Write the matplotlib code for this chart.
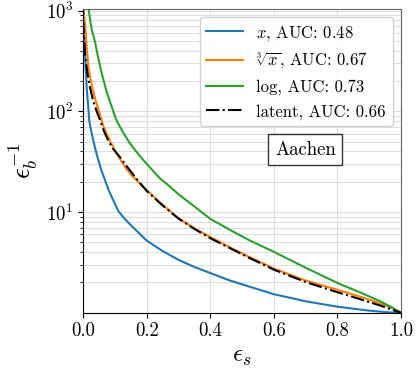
import matplotlib
matplotlib.use('Agg')
import matplotlib.pyplot as plt
import numpy as np

plt.rcParams['font.family'] = 'serif'
plt.rcParams['font.serif'] = ['cmr10', 'DejaVu Serif']
plt.rcParams['mathtext.fontset'] = 'cm'
plt.rcParams['axes.formatter.use_mathtext'] = True

# signal efficiency vs inverse background efficiency
eps_x = [0.0, 0.003, 0.006, 0.011, 0.016, 0.019, 0.025, 0.032, 0.04, 0.048,
         0.058, 0.069, 0.08, 0.095, 0.11, 0.13, 0.15, 0.175, 0.2, 0.25,
         0.3, 0.35, 0.4, 0.46, 0.525, 0.6, 0.7, 0.8, 0.9, 0.96, 1.0]
rej_x = [1500, 700, 360, 170, 110, 81, 64, 51, 40, 32.5,
         25.5, 20.6, 16.5, 13, 10.3, 8.6, 7.4, 6.2, 5.2, 4.1,
         3.35, 2.85, 2.48, 2.1, 1.81, 1.53, 1.3, 1.15, 1.05, 1.01, 1.0]

eps_cbrt = [0.0, 0.006, 0.011, 0.016, 0.021, 0.027, 0.037, 0.042, 0.053, 0.063,
            0.074, 0.084, 0.1, 0.116, 0.135, 0.158, 0.18, 0.2, 0.25, 0.3,
            0.35, 0.4, 0.462, 0.525, 0.6, 0.7, 0.8, 0.87, 0.935, 0.97, 1.0]
rej_cbrt = [1000, 725, 425, 287, 225, 182, 135, 120, 92, 72,
            60, 51, 41, 33.5, 27, 22.2, 19, 16.4, 11.8, 8.7,
            6.9, 5.65, 4.45, 3.55, 2.75, 2.09, 1.69, 1.45, 1.24, 1.12, 1.0]

eps_log = [0.016, 0.022, 0.027, 0.037, 0.048, 0.058, 0.074, 0.095, 0.105, 0.125,
           0.147, 0.175, 0.2, 0.242, 0.263, 0.3, 0.337, 0.4, 0.462, 0.525,
           0.602, 0.7, 0.804, 0.87, 0.935, 0.97, 1.0]
rej_log = [1100, 800, 646, 490, 330, 240, 155, 99, 81, 62,
           48, 37, 30, 21.5, 19, 15, 12.2, 8.55, 6.65, 5.2,
           4.0, 2.8, 1.95, 1.6, 1.3, 1.14, 1.0]

eps_lat = [0.0, 0.006, 0.011, 0.016, 0.021, 0.027, 0.032, 0.037, 0.045, 0.053,
           0.065, 0.079, 0.095, 0.116, 0.147, 0.175, 0.2, 0.25, 0.3, 0.35,
           0.4, 0.462, 0.525, 0.6, 0.7, 0.8, 0.87, 0.935, 0.97, 1.0]
rej_lat = [800, 360, 270, 213, 175, 145, 125, 112, 95, 82,
           64, 51, 42, 35, 25.9, 20, 16.2, 11.6, 8.6, 6.8,
           5.5, 4.38, 3.48, 2.68, 2.02, 1.6, 1.37, 1.18, 1.08, 1.0]

labels = [r'$x$, AUC: 0.48', r'$\sqrt[3]{x}$, AUC: 0.67',
          r'log, AUC: 0.73', r'latent, AUC: 0.66']

fig = plt.figure(figsize=(4.16, 3.68), dpi=100)
ax = fig.add_axes([0.2, 0.15, 0.764, 0.826])

ax.plot(eps_x, rej_x, color='#1f77b4', lw=1.5, label=labels[0])
ax.plot(eps_cbrt, rej_cbrt, color='#ff7f0e', lw=1.5, label=labels[1])
ax.plot(eps_log, rej_log, color='#2ca02c', lw=1.5, label=labels[2])
ax.plot(eps_lat, rej_lat, color='black', lw=1.5, ls='-.', label=labels[3])

ax.set_yscale('log')
ax.set_xlim(0, 1)
ax.set_ylim(1, 1040)
ax.set_yticks([10, 100, 1000])
ax.set_xticks([0, 0.2, 0.4, 0.6, 0.8, 1.0])
ax.set_xticklabels(['0.0', '0.2', '0.4', '0.6', '0.8', '1.0'])
ax.tick_params(labelsize=13.5)

ax.grid(True, which='both', axis='y', color='#dddddd', lw=0.8)
ax.grid(True, which='major', axis='x', color='#dddddd', lw=0.8)
ax.set_axisbelow(True)

ax.spines['top'].set_color('#666666')
ax.spines['right'].set_color('#666666')

ax.set_xlabel(r'$\epsilon_s$', fontsize=18)
ax.set_ylabel(r'$\epsilon_b^{-1}$', fontsize=19)

ax.legend(loc='upper right', fontsize=12, framealpha=0.9, handlelength=2.2)
ax.text(0.699, 0.536, 'Aachen', transform=ax.transAxes, fontsize=13.5,
        ha='center', va='center',
        bbox=dict(boxstyle='square,pad=0.35', fc='white', ec='#333333'))

fig.savefig('out.png', dpi=100)
